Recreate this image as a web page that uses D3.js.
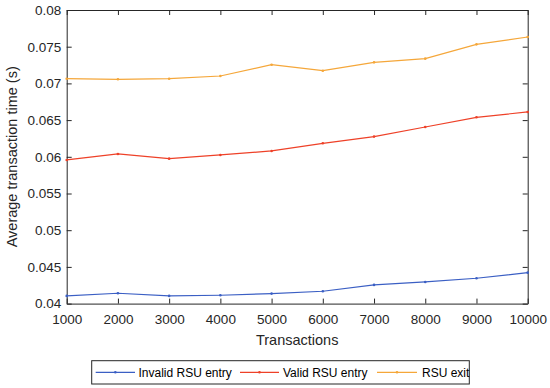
<!DOCTYPE html>
<html>
<head>
<meta charset="utf-8">
<script src="https://cdn.jsdelivr.net/npm/d3@7"></script>
<style>
html,body{margin:0;padding:0;background:#fff;}
svg{display:block;font-family:"Liberation Sans",Arial,sans-serif;}
</style>
</head>
<body>
<svg id="chart" width="550" height="388"></svg>
<script>
const transactions = [1000,2000,3000,4000,5000,6000,7000,8000,9000,10000];
const invalidEntry = [0.04105,0.04141,0.04105,0.04114,0.04136,0.04168,0.04255,0.04295,0.04345,0.04422];
const validEntry   = [0.05957,0.06039,0.05975,0.06025,0.06080,0.06184,0.06275,0.06406,0.06538,0.06611];
const rsuExit      = [0.07064,0.07056,0.07064,0.07101,0.07255,0.07173,0.07287,0.07337,0.07532,0.07632];
const seriesNames  = ["Invalid RSU entry","Valid RSU entry","RSU exit"];
const seriesColors = ["#3b5fc4","#ee4128","#f5a73a"];
const yTicks = [0.04,0.045,0.05,0.055,0.06,0.065,0.07,0.075,0.08];
const yTickLabels = ["0.04","0.045","0.05","0.055","0.06","0.065","0.07","0.075","0.08"];

const svg = d3.select("#chart");
const L = 66.7, R = 527.7, T = 10, B = 303.6;
const x = d3.scaleLinear().domain([1000,10000]).range([L,R]);
const y = d3.scaleLinear().domain([0.04,0.08]).range([B,T]);
const axisColor = "#262626";

// axes
const xAxis = svg.append("g").attr("transform",`translate(0,${B})`)
  .call(d3.axisBottom(x).tickValues(transactions).tickFormat(d3.format("d")).tickSizeInner(-5).tickSizeOuter(0).tickPadding(10.5));
const xAxisTop = svg.append("g").attr("transform",`translate(0,${T})`)
  .call(d3.axisTop(x).tickValues(transactions).tickFormat("").tickSizeInner(-5).tickSizeOuter(0));
const yAxis = svg.append("g").attr("transform",`translate(${L},0)`)
  .call(d3.axisLeft(y).tickValues(yTicks).tickFormat((d,i)=>yTickLabels[i]).tickSizeInner(-5).tickSizeOuter(0).tickPadding(5.5));
const yAxisR = svg.append("g").attr("transform",`translate(${R},0)`)
  .call(d3.axisRight(y).tickValues(yTicks).tickFormat("").tickSizeInner(-5).tickSizeOuter(0));
[xAxis,xAxisTop,yAxis,yAxisR].forEach(g=>{
  g.select(".domain").attr("stroke",axisColor).attr("stroke-width",1);
  g.selectAll(".tick line").attr("stroke",axisColor).attr("stroke-width",1);
  g.selectAll("text").attr("fill",axisColor).style("font-size","13.5px").style("font-family","'Liberation Sans',Arial,sans-serif");
});

// axis titles
svg.append("text").attr("x",(L+R)/2).attr("y",345).attr("text-anchor","middle")
  .attr("fill",axisColor).style("font-size","14.5px").text("Transactions");
svg.append("text").attr("transform",`translate(17,${(T+B)/2}) rotate(-90)`).attr("text-anchor","middle")
  .attr("fill",axisColor).style("font-size","14.5px").text("Average transaction time (s)");

// series
const allSeries = [invalidEntry, validEntry, rsuExit];
const line = d3.line().x((d,i)=>x(transactions[i])).y(d=>y(d));
allSeries.forEach((vals,si)=>{
  svg.append("path").datum(vals).attr("d",line).attr("fill","none")
    .attr("stroke",seriesColors[si]).attr("stroke-width",1.2);
  svg.append("g").selectAll("circle").data(vals).join("circle")
    .attr("cx",(d,i)=>x(transactions[i])).attr("cy",d=>y(d)).attr("r",1.3)
    .attr("fill",seriesColors[si]);
});

// legend
const lg = svg.append("g");
lg.append("rect").attr("x",91.7).attr("y",360.7).attr("width",377.6).attr("height",23.3)
  .attr("fill","#fff").attr("stroke",axisColor).attr("stroke-width",1);
const legendItems = [
  {x1:95.7,x2:135,tx:138.5},
  {x1:240,x2:279,tx:283},
  {x1:377,x2:417,tx:422}
];
legendItems.forEach((it,i)=>{
  lg.append("line").attr("x1",it.x1).attr("x2",it.x2).attr("y1",372.3).attr("y2",372.3)
    .attr("stroke",seriesColors[i]).attr("stroke-width",1.2);
  lg.append("circle").attr("cx",(it.x1+it.x2)/2).attr("cy",372.3).attr("r",1.3).attr("fill",seriesColors[i]);
  lg.append("text").attr("x",it.tx).attr("y",376.5).attr("fill","#000").style("font-size","12px").text(seriesNames[i]);
});
</script>
</body>
</html>
